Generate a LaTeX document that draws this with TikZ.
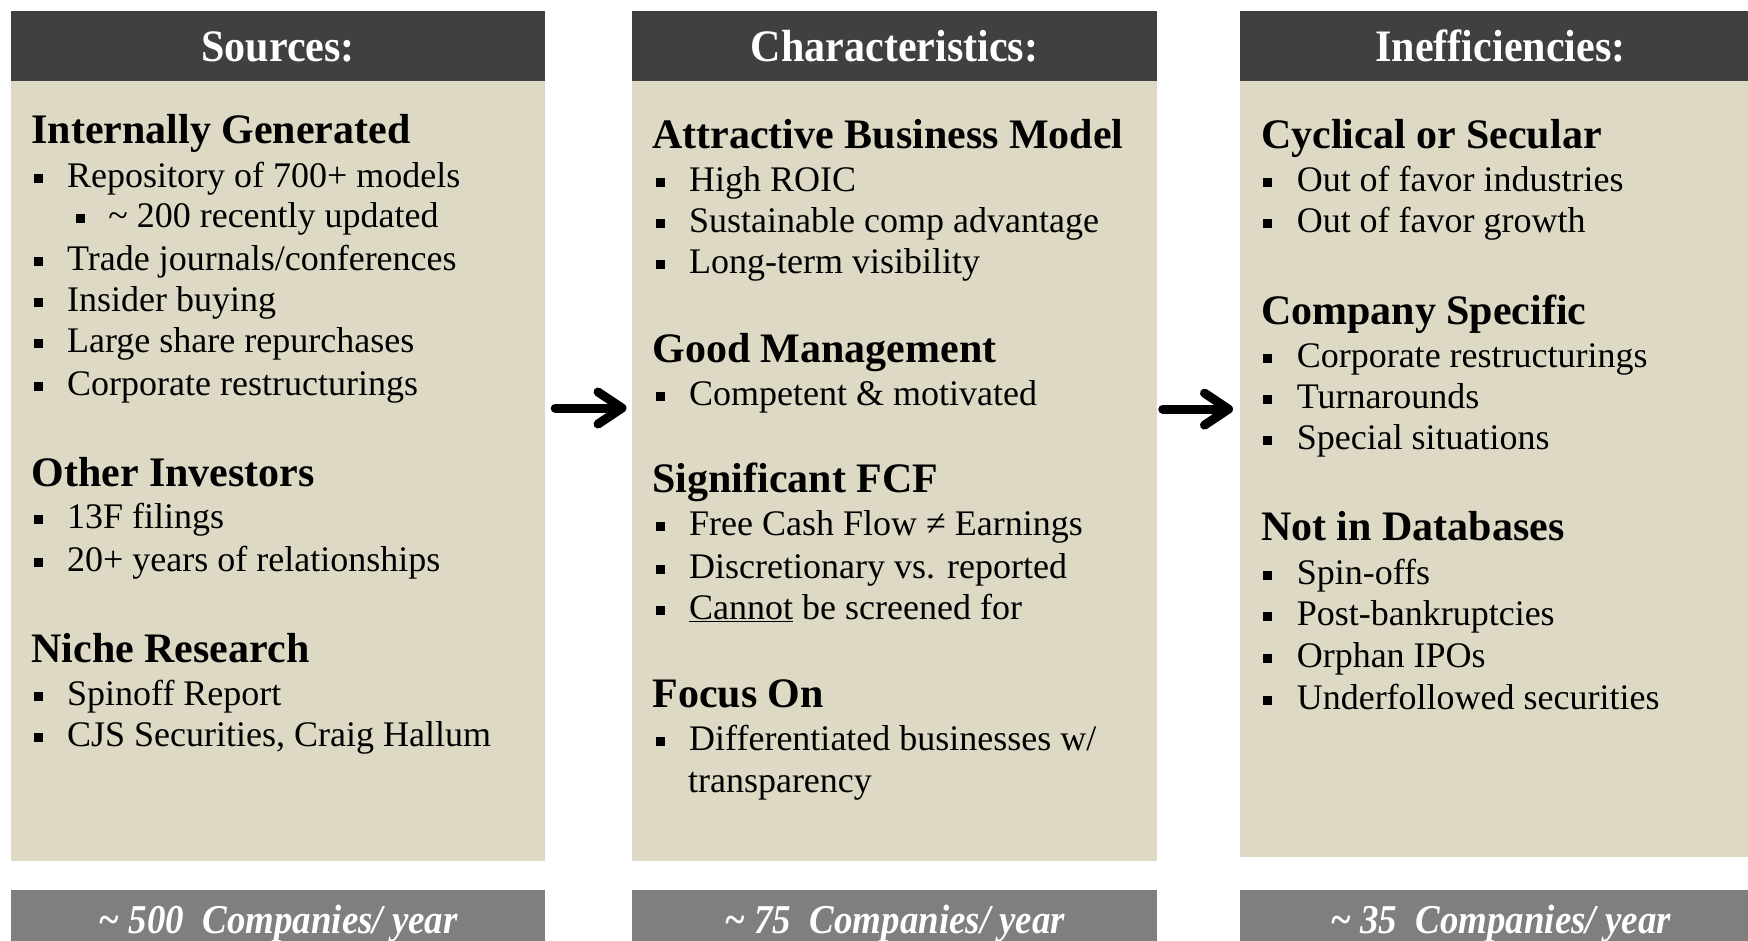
\documentclass[tikz,border=0pt]{standalone}
\usepackage{fontspec}
\setmainfont{Liberation Serif}
\newfontfamily\titlefont[FakeStretch=0.935]{Liberation Serif}
\newfontfamily\footfont[FakeStretch=0.9]{Liberation Serif}
\usetikzlibrary{arrows.meta}

\definecolor{barDark}{HTML}{404040}
\definecolor{panelTan}{HTML}{DDD9C4}
\definecolor{barGray}{HTML}{7F7F7F}

% square bullet followed by the item text
\newcommand{\sqbul}{\rule[4.5pt]{9pt}{9pt}}
\newcommand{\bitem}[1]{\makebox[33.5pt][l]{\sqbul}#1}
\newcommand{\nesteditem}[1]{\makebox[32.3pt][l]{\sqbul}#1}

\tikzset{
  x=1.1148pt, y=-1.1148pt,
  titlebar/.style={fill=barDark},
  panel/.style={fill=panelTan},
  footbar/.style={fill=barGray},
  title/.style={anchor=base, inner sep=0pt, text=white,
    font=\titlefont\bfseries\fontsize{45}{50}\selectfont},
  foot/.style={anchor=base, inner sep=0pt, text=white,
    font=\footfont\bfseries\itshape\fontsize{41}{46}\selectfont},
  topic/.style={anchor=base west, inner sep=0pt,
    font=\bfseries\fontsize{42}{48}\selectfont},
  point/.style={anchor=base west, inner sep=0pt,
    font=\fontsize{36}{42}\selectfont},
  flow/.style={line width=9pt, line cap=round,
    -{Straight Barb[length=24pt,width=32pt,round]}},
}

\begin{document}
\begin{tikzpicture}
\path[use as bounding box] (0,0) rectangle (1568,844.1);

% ---- column boxes
\fill[titlebar] (10,10) rectangle (489,73);
\fill[panel]    (10,73) rectangle (489,772);
\fill[footbar]  (10,798) rectangle (489,850);

\fill[titlebar] (567,10) rectangle (1038,73);
\fill[panel]    (567,73) rectangle (1038,772);
\fill[footbar]  (567,798) rectangle (1038,850);

\fill[titlebar] (1112,10) rectangle (1580,73);
\fill[panel]    (1112,73) rectangle (1580,769);
\fill[footbar]  (1112,798) rectangle (1580,850);

% ---- titles and footers
\node[title] (t1) at (249.5,55) {Sources:};
\node[title] (t2) at (802.5,55) {Characteristics:};
\node[title] (t3) at (1346,55) {Inefficiencies:};

\node[foot] (f1) at (249.5,837) {\textasciitilde{} 500\ \ Companies/ year};
\node[foot] (f2) at (802.5,837) {\textasciitilde{} 75\ \ Companies/ year};
\node[foot] (f3) at (1346,837) {\textasciitilde{} 35\ \ Companies/ year};

% ---- column 1: sources
\node[topic] (a0) at (28,129) {Internally Generated};
\node[point] (a1) at (30,168.5) {\bitem{Repository of 700+ models}};
\node[point] (a2) at (68,204.5) {\nesteditem{\textasciitilde{} 200 recently updated}};
\node[point] (a3) at (30,242.5) {\bitem{Trade journals/conferences}};
\node[point] (a4) at (30,279.5) {\bitem{Insider buying}};
\node[point] (a5) at (30,316.5) {\bitem{Large share repurchases}};
\node[point] (a6) at (30,354.5) {\bitem{Corporate restructurings}};

\node[topic] (b0) at (28,436) {Other Investors};
\node[point] (b1) at (30,474.5) {\bitem{13F filings}};
\node[point] (b2) at (30,512.5) {\bitem{20+ years of relationships}};

\node[topic] (c0) at (28,594) {Niche Research};
\node[point] (c1) at (30,632.5) {\bitem{Spinoff Report}};
\node[point] (c2) at (30,669.5) {\bitem{CJS Securities, Craig Hallum}};

% ---- column 2: characteristics
\node[topic] (d0) at (585,133) {Attractive Business Model};
\node[point] (d1) at (588,171.5) {\bitem{High ROIC}};
\node[point] (d2) at (588,208.5) {\bitem{Sustainable comp advantage}};
\node[point] (d3) at (588,245.5) {\bitem{Long-term visibility}};

\node[topic] (e0) at (585,325) {Good Management};
\node[point] (e1) at (588,363.5) {\bitem{Competent \& motivated}};

\node[topic] (g0) at (585,442) {Significant FCF};
\node[point] (g1) at (588,480.5) {\bitem{Free Cash Flow ≠ Earnings}};
\node[point] (g2) at (588,518.5) {\bitem{Discretionary vs. reported}};
\node[point] (g3) at (588,555.5) {\bitem{\underline{Cannot} be screened for}};

\node[topic] (h0) at (585,635) {Focus On};
\node[point] (h1) at (588,673.5) {\bitem{Differentiated businesses w/}};
\node[point] (h2) at (617,710.5) {transparency};

% ---- column 3: inefficiencies
\node[topic] (k0) at (1131,133) {Cyclical or Secular};
\node[point] (k1) at (1133,171.5) {\bitem{Out of favor industries}};
\node[point] (k2) at (1133,208.5) {\bitem{Out of favor growth}};

\node[topic] (m0) at (1131,291) {Company Specific};
\node[point] (m1) at (1133,329.5) {\bitem{Corporate restructurings}};
\node[point] (m2) at (1133,366.5) {\bitem{Turnarounds}};
\node[point] (m3) at (1133,403.5) {\bitem{Special situations}};

\node[topic] (n0) at (1131,485) {Not in Databases};
\node[point] (n1) at (1133,524.5) {\bitem{Spin-offs}};
\node[point] (n2) at (1133,561.5) {\bitem{Post-bankruptcies}};
\node[point] (n3) at (1133,598.5) {\bitem{Orphan IPOs}};
\node[point] (n4) at (1133,636.5) {\bitem{Underfollowed securities}};

% ---- flow arrows between columns
\coordinate (p1out) at (498,366);
\coordinate (p2in)  at (562,366);
\coordinate (p2out) at (1043,367);
\coordinate (p3in)  at (1106,367);
\draw[flow] (p1out) -- (p2in);
\draw[flow] (p2out) -- (p3in);
\end{tikzpicture}
\end{document}
